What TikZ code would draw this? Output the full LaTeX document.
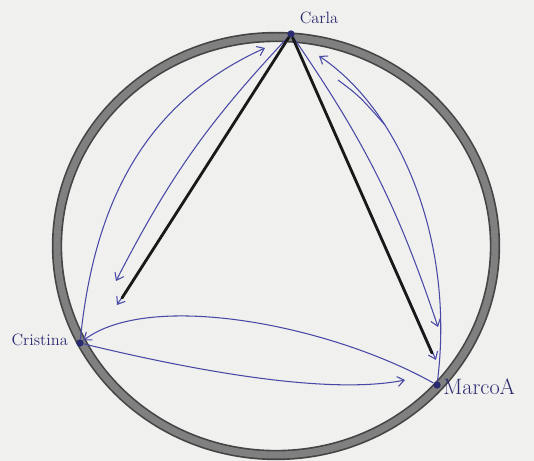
\documentclass[tikz,border=0pt]{standalone}
\usetikzlibrary{arrows.meta}
\definecolor{paper}{HTML}{F0F0EE}
\definecolor{ink}{HTML}{4848A6}
\definecolor{inkdark}{HTML}{2A2A70}
\definecolor{ringdark}{HTML}{454545}
\definecolor{ringmid}{HTML}{808080}

\begin{document}
\begin{tikzpicture}[line width=0.8pt,>={Straight Barb[length=2mm,width=3mm]},
  blueink/.style={draw=ink,line width=0.9pt},
  blackink/.style={draw=black!90,line width=2.4pt,line cap=round},
  dot/.style={circle,fill=inkdark,inner sep=0pt,minimum size=0.22cm},
  lbl/.style={text=inkdark,inner sep=0pt,font=\fontsize{14}{16}\selectfont}]
% ---------- paper ----------
\fill[paper] (-8.28,-6.45) rectangle (7.74,7.38);
\useasboundingbox (-8.28,-6.45) rectangle (7.74,7.38);
% ---------- ring ----------
\draw[ringdark,line width=0.31cm] (0,0) ellipse (6.57 and 6.27);
\draw[ringmid,line width=0.21cm] (0,0) ellipse (6.57 and 6.27);
% ---------- people on the ring ----------
\node[dot] (carla) at (0.45,6.36) {};
\node[dot] (cristina) at (-5.88,-2.91) {};
\node[dot] (marco) at (4.83,-4.17) {};
\node[lbl] (carlaL) at (1.29,6.84) {Carla};
\node[lbl] (cristinaL) at (-7.09,-2.82) {Cristina};
\node[lbl,anchor=west,font=\fontsize{19}{21}\selectfont] (marcoL) at (5.01,-4.23) {MarcoA};
% ---------- free ends ----------
\coordinate (lTipA) at (-4.80,-1.05);
\coordinate (lTipB) at (-4.77,-1.77);
\coordinate (lBlk) at (-4.62,-1.56);
\coordinate (lTop) at (-0.33,5.94);
\coordinate (rTipA) at (4.86,-2.43);
\coordinate (rTipB) at (4.80,-3.42);
\coordinate (rBlk) at (4.68,-3.21);
\coordinate (rTop) at (1.29,5.70);
\coordinate (bTip) at (3.87,-4.02);
% ---------- Carla -- Cristina ----------
\draw[blueink,->] (carla) -- (lTipB);
\draw[blueink,->] (carla) to[bend right=8] (lTipA);
\draw[blackink] (carla) -- (lBlk);
\draw[blueink,->] (cristina) .. controls (-5.43,1.53) and (-3.78,4.38) .. (lTop);
% ---------- Carla -- MarcoA ----------
\draw[blueink,->] (carla) -- (rTipB);
\draw[blueink,->] (carla) to[bend left=8] (rTipA);
\draw[blackink] (carla) -- (rBlk);
\draw[blueink,->] (marco) .. controls (5.37,0.18) and (3.72,4.08) .. (rTop);
\draw[blueink] (1.86,4.98) .. controls (2.5,4.5) .. (3.27,3.63);
% ---------- Cristina -- MarcoA ----------
\draw[blueink,->] (marco) .. controls (1.62,-2.37) and (-3.78,-1.32) .. (cristina);
\draw[blueink,->] (cristina) .. controls (-2.28,-3.78) and (1.62,-4.47) .. (bTip);
\end{tikzpicture}
\end{document}
